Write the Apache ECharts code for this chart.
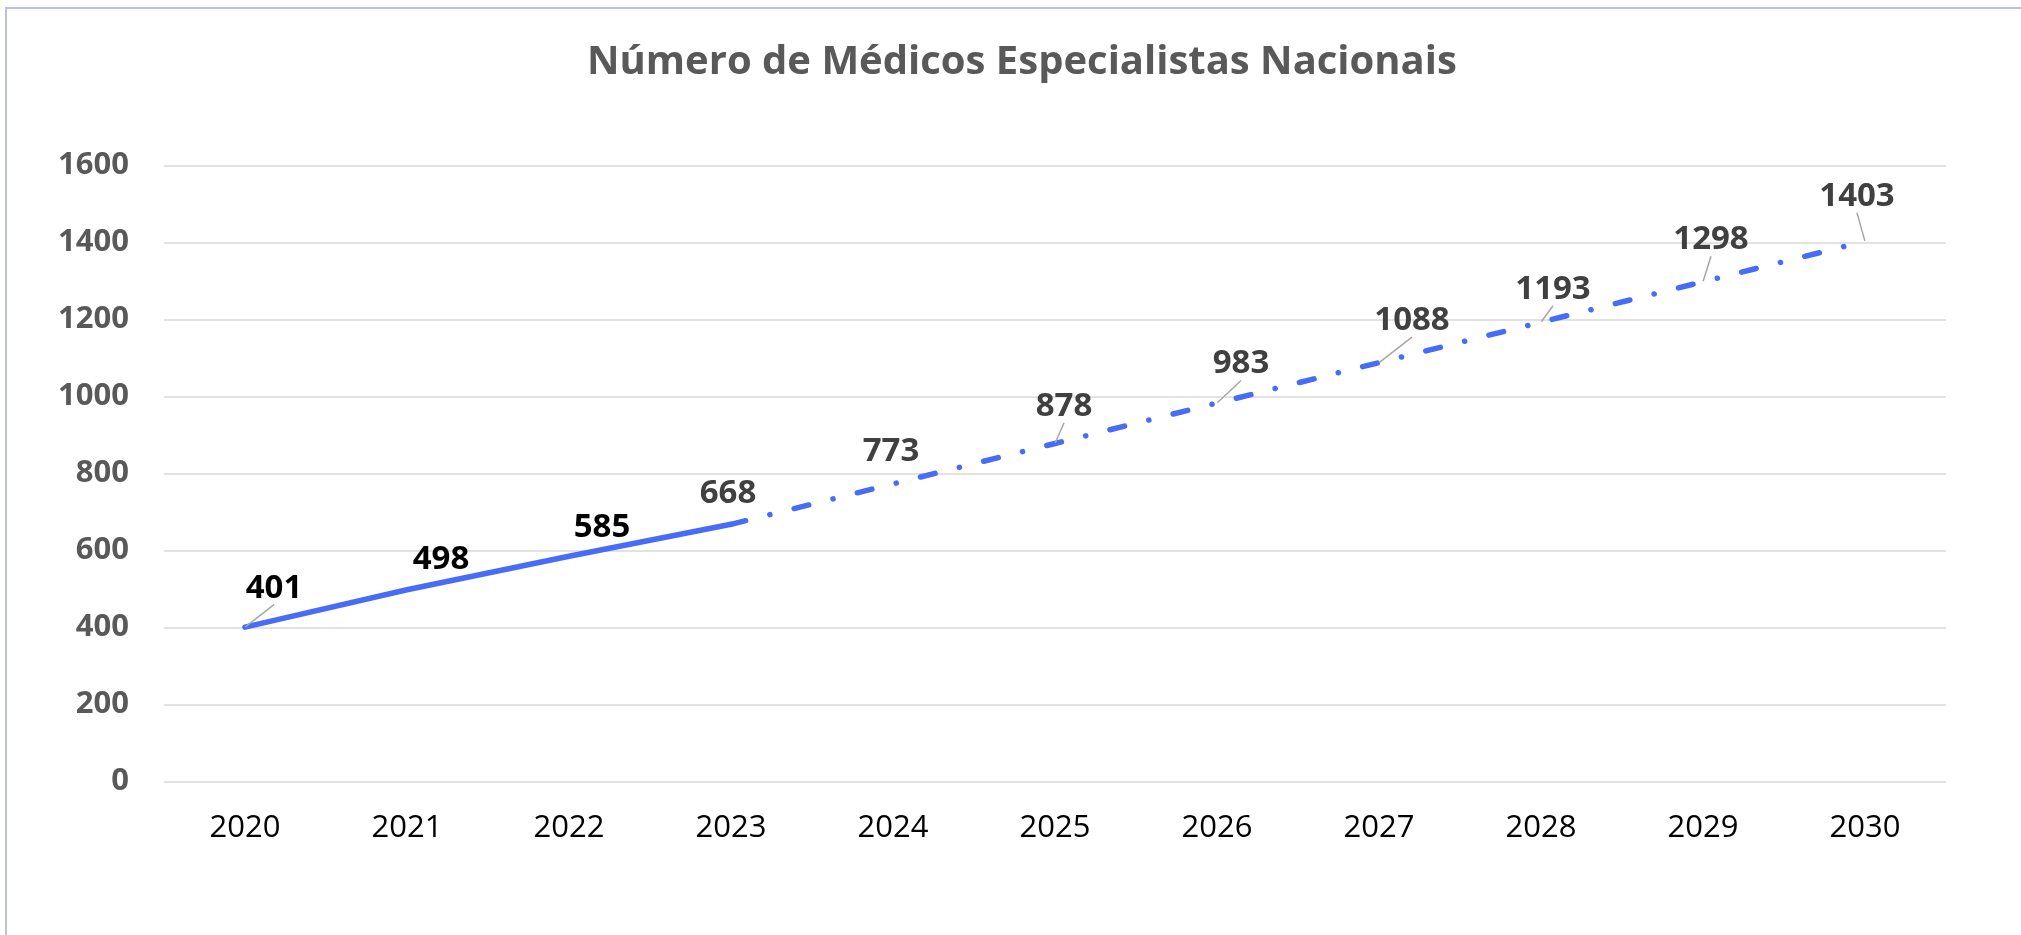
<!DOCTYPE html>
<html>
<head>
<meta charset="utf-8">
<script src="https://cdn.jsdelivr.net/npm/echarts@6/dist/echarts.min.js"></script>
<style>
  html, body { margin: 0; padding: 0; background: #ffffff; }
  #chart { width: 2021px; height: 935px; }
</style>
</head>
<body>
<div id="chart"></div>
<script>
// ---- data ----
const titleText = 'Número de Médicos Especialistas Nacionais';
const years = ['2020', '2021', '2022', '2023', '2024', '2025', '2026', '2027', '2028', '2029', '2030'];
const values = [401, 498, 585, 668, 773, 878, 983, 1088, 1193, 1298, 1403];
const lastActualIndex = 3; // 2023: solid line up to here, dash-dot afterwards
const yMin = 0, yMax = 1600, yStep = 200;

// ---- label placement style (offset of label centre from its point, px) ----
const labelOffsets = [[29, -42], [34, -33], [33, -32], [-3, -34], [-2, -35], [9, -40], [24, -42], [33, -45], [12, -36], [8, -45], [-8, -48]];
const leaderShown = [true, false, false, false, false, true, true, true, true, true, true];
const LEADER_END_BELOW_CENTER = 25;
const LABEL_Y_NUDGE = 3;

const FONT = '"Open Sans", "Noto Sans", sans-serif';
const LINE_COLOR = '#476CF6';

const actualData = values.map((v, i) => i <= lastActualIndex ? {
  value: v,
  label: { show: i < lastActualIndex },
  labelLine: { show: leaderShown[i] }
} : null);
const projData = values.map((v, i) => i >= lastActualIndex ? {
  value: v,
  label: { show: true },
  labelLine: { show: leaderShown[i] }
} : null);

function layoutFn(params) {
  const off = labelOffsets[params.dataIndex];
  const px = params.rect.x + params.rect.width / 2;
  const py = params.rect.y + params.rect.height / 2;
  const lr = params.labelRect;
  const cx = lr.x + lr.width / 2;
  const cy = lr.y + lr.height / 2;
  const tx = px + off[0], ty = py + off[1];
  return {
    dx: tx - cx,
    dy: ty - cy + LABEL_Y_NUDGE,
    labelLinePoints: [[px, py], [tx, ty + LEADER_END_BELOW_CENTER]]
  };
}

const labelBase = {
  position: 'top',
  fontFamily: FONT,
  fontWeight: 'bold',
  fontSize: 33,
  formatter: p => String(p.value)
};

const chart = echarts.init(document.getElementById('chart'), null, { renderer: 'canvas' });
chart.setOption({
  animation: false,
  backgroundColor: '#ffffff',
  title: {
    text: titleText,
    left: 582,
    top: 38,
    textStyle: { fontFamily: FONT, fontWeight: 'bold', fontSize: 40, color: '#595959' }
  },
  graphic: [{
    type: 'rect',
    shape: { x: 6, y: 8, width: 2100, height: 1000 },
    style: { fill: 'none', stroke: '#BDBDEB', lineWidth: 2 },
    silent: true
  }],
  grid: { left: 164, right: 75, top: 165.5, bottom: 153.5, containLabel: false },
  xAxis: {
    type: 'category',
    data: years,
    boundaryGap: true,
    axisLine: { show: false },
    axisTick: { show: false },
    axisLabel: { fontFamily: FONT, fontSize: 31, color: '#000000', margin: 31 }
  },
  yAxis: {
    type: 'value',
    min: yMin, max: yMax, interval: yStep,
    axisLine: { show: false },
    axisTick: { show: false },
    splitLine: { lineStyle: { color: '#D9D9D9', width: 1.5 } },
    axisLabel: { fontFamily: FONT, fontWeight: 'bold', fontSize: 31, color: '#595959', margin: 35, formatter: v => String(v) }
  },
  series: [
    {
      type: 'line',
      data: actualData,
      connectNulls: false,
      symbol: 'circle', symbolSize: 1, showSymbol: true,
      itemStyle: { color: 'rgba(0,0,0,0)', borderWidth: 0 },
      lineStyle: { color: LINE_COLOR, width: 5.5, cap: 'round', join: 'round' },
      label: Object.assign({}, labelBase, { color: '#000000' }),
      labelLine: { show: false, lineStyle: { color: '#A6A6A6', width: 1.5 } },
      labelLayout: layoutFn,
      z: 3
    },
    {
      type: 'line',
      data: projData,
      connectNulls: false,
      symbol: 'circle', symbolSize: 1, showSymbol: true,
      itemStyle: { color: 'rgba(0,0,0,0)', borderWidth: 0 },
      lineStyle: { color: LINE_COLOR, width: 5.5, type: [15, 25, 0.1, 25], cap: 'round', join: 'round' },
      label: Object.assign({}, labelBase, { color: '#404040' }),
      labelLine: { show: false, lineStyle: { color: '#A6A6A6', width: 1.5 } },
      labelLayout: layoutFn,
      z: 2
    }
  ]
});
</script>
</body>
</html>
